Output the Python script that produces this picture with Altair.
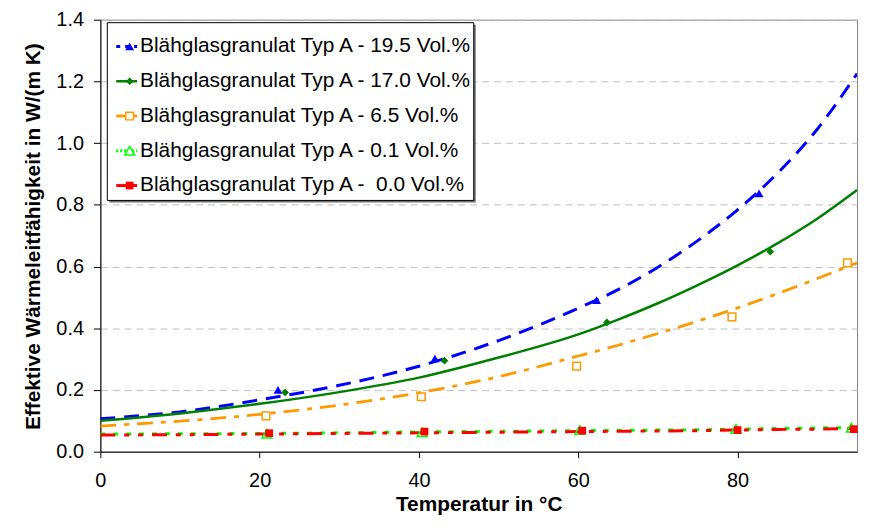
import altair as alt
import pandas as pd

SERIES = [
    "Blähglasgranulat Typ A - 19.5 Vol.%",
    "Blähglasgranulat Typ A - 17.0 Vol.%",
    "Blähglasgranulat Typ A - 6.5 Vol.%",
    "Blähglasgranulat Typ A - 0.1 Vol.%",
    "Blähglasgranulat Typ A - \u00a00.0 Vol.%",
]

# measured points (temperature in °C, conductivity in W/(m K))
T_195 = [22.3, 42.0, 62.3, 82.7]
V_195 = [0.200, 0.302, 0.491, 0.837]
T_170 = [23.2, 43.2, 63.6, 84.1]
V_170 = [0.192, 0.295, 0.419, 0.648]
T_065 = [20.8, 40.3, 59.8, 79.3, 93.8]
V_065 = [0.116, 0.178, 0.277, 0.437, 0.612]
T_001 = [20.9, 40.4, 60.2, 79.8, 94.3]
V_001 = [0.058, 0.063, 0.070, 0.074, 0.078]
T_000 = [21.2, 40.7, 60.5, 80.0, 94.6]
V_000 = [0.060, 0.065, 0.068, 0.070, 0.073]

# trend curves at these temperatures
T_CURVE = [0, 10, 20, 30, 40, 50, 60, 65, 70, 75, 80, 85, 90, 95]
C_195 = [0.107, 0.129, 0.168, 0.215, 0.277, 0.360, 0.465, 0.525, 0.598, 0.684, 0.784, 0.902, 1.045, 1.225]
C_170 = [0.100, 0.124, 0.155, 0.193, 0.240, 0.305, 0.380, 0.428, 0.481, 0.540, 0.604, 0.675, 0.755, 0.848]
C_065 = [0.083, 0.099, 0.121, 0.151, 0.191, 0.243, 0.310, 0.345, 0.383, 0.423, 0.466, 0.512, 0.561, 0.612]
C_001 = [0.057, 0.058, 0.059, 0.061, 0.064, 0.066, 0.068, 0.069, 0.070, 0.071, 0.073, 0.075, 0.077, 0.078]
C_000 = [0.054, 0.055, 0.057, 0.059, 0.061, 0.063, 0.065, 0.066, 0.067, 0.068, 0.070, 0.072, 0.073, 0.075]

POINTS_T = [T_195, T_170, T_065, T_001, T_000]
POINTS_V = [V_195, V_170, V_065, V_001, V_000]
CURVES = [C_195, C_170, C_065, C_001, C_000]

# styles
COLORS = ["#0000FF", "#008000", "#FF9900", "#00FF00", "#FF0000"]
DASHES = [[15, 9], None, [16, 8, 5, 8], [5, 8], [15, 9, 5, 9, 5, 9]]
LEG_DASHES = [[4, 5], None, None, [2, 2], None]
WIDTHS = [3, 2.5, 2.8, 3, 3]
SHAPES = ["triangle-up", "diamond", "square", "triangle-up", "square"]
SIZES = [80, 60, 60, 100, 60]
FILLED = [True, True, False, False, True]

FONT = "Liberation Sans"

x_axis = alt.Axis(
    values=[0, 20, 40, 60, 80], title="Temperatur in °C", grid=False,
    labelFont=FONT, labelFontSize=20, labelColor="black", labelFlush=False,
    labelPadding=13, tickSize=6, tickColor="black", domainColor="black",
    titleFont=FONT, titleFontSize=21, titleFontWeight="bold", titleColor="black",
    titleBaseline="alphabetic", titleY=59,
)
y_axis = alt.Axis(
    values=[0, 0.2, 0.4, 0.6, 0.8, 1.0, 1.2, 1.4], format=".1f",
    title="Effektive Wärmeleitfähigkeit in W/(m K)",
    grid=True, gridDash=[7, 5], gridColor="#c0c0c0", gridWidth=1,
    labelFont=FONT, labelFontSize=20, labelColor="black", labelPadding=10,
    tickSize=7, tickColor="black", domainColor="black",
    titleFont=FONT, titleFontSize=21, titleFontWeight="bold", titleColor="black",
    titleBaseline="alphabetic", titleX=-61, titleY=218,
)
X = alt.X("T:Q", scale=alt.Scale(domain=[0, 95], nice=False, zero=False), axis=x_axis)
Y = alt.Y("v:Q", scale=alt.Scale(domain=[0, 1.4], nice=False), axis=y_axis)

main_layers = []
for i, name in enumerate(SERIES):
    cdf = pd.DataFrame({"T": T_CURVE, "v": CURVES[i], "series": name})
    lk = dict(color=COLORS[i], strokeWidth=WIDTHS[i], interpolate="monotone", clip=True)
    if DASHES[i]:
        lk["strokeDash"] = DASHES[i]
    main_layers.append(alt.Chart(cdf).mark_line(**lk).encode(x=X, y=Y))
for i, name in enumerate(SERIES):
    pdf = pd.DataFrame({"T": POINTS_T[i], "v": POINTS_V[i], "series": name})
    if FILLED[i]:
        pk = dict(shape=SHAPES[i], size=SIZES[i], filled=True, color=COLORS[i], opacity=1)
    else:
        pk = dict(shape=SHAPES[i], size=SIZES[i], filled=False, color=COLORS[i],
                  strokeWidth=1.5, opacity=1)
    main_layers.append(alt.Chart(pdf).mark_point(**pk).encode(x=X, y=Y))

main = alt.layer(*main_layers)

# legend
leg_df = pd.DataFrame({"label": SERIES})
LY = alt.Y("label:N", scale=alt.Scale(type="point", domain=SERIES, range=[27, 167], padding=0),
           axis=None)
one = pd.DataFrame({"a": [0]})
legend_layers = [
    alt.Chart(one).mark_rect(fill="#707070").encode(
        x=alt.value(9), x2=alt.value(378), y=alt.value(5), y2=alt.value(184)),
    alt.Chart(one).mark_rect(fill="white", stroke="black", strokeWidth=1).encode(
        x=alt.value(7), x2=alt.value(376), y=alt.value(3), y2=alt.value(182)),
]
for i, name in enumerate(SERIES):
    sub = leg_df[leg_df["label"] == name]
    rk = dict(color=COLORS[i], strokeWidth=WIDTHS[i])
    if LEG_DASHES[i]:
        rk["strokeDash"] = LEG_DASHES[i]
    legend_layers.append(alt.Chart(sub).mark_rule(**rk).encode(
        x=alt.value(16), x2=alt.value(37), y=LY))
    if FILLED[i]:
        pk = dict(shape=SHAPES[i], size=SIZES[i], filled=True, color=COLORS[i], opacity=1)
    else:
        pk = dict(shape=SHAPES[i], size=SIZES[i], filled=False, color=COLORS[i],
                  strokeWidth=1.5, opacity=1, fill="white")
    legend_layers.append(alt.Chart(sub).mark_point(**pk).encode(x=alt.value(29.5), y=LY))
legend_layers.append(alt.Chart(leg_df).mark_text(
    align="left", baseline="middle", font=FONT, fontSize=21, color="black").encode(
    x=alt.value(40), y=LY, text="label:N"))
legend = alt.layer(*legend_layers)

chart = alt.layer(main, legend).resolve_scale(y="independent").properties(
    width=762, height=435,
    padding={"left": 93, "top": 10, "right": 5, "bottom": 63},
    autosize=alt.AutoSizeParams(type="none"),
).configure_view(stroke="#808080", strokeWidth=1)

chart.save("out.html", embed_options={"renderer": "svg", "actions": False})
